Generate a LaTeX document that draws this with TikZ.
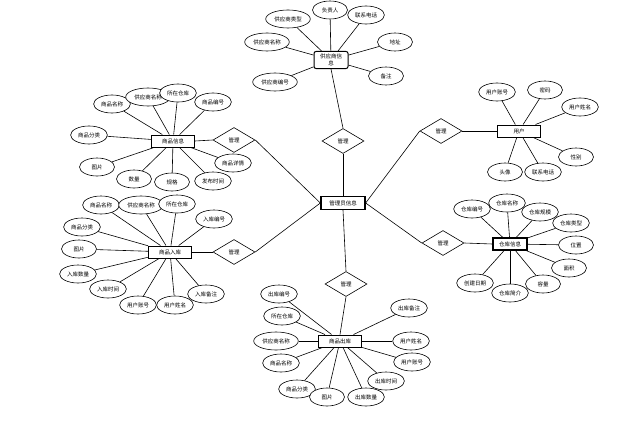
\documentclass[tikz,border=0pt]{standalone}
\usepackage{fontspec}
\setmainfont{Noto Sans CJK SC}
\usetikzlibrary{shapes.geometric}
\begin{document}
\begin{tikzpicture}[x=1pt,y=-1pt,
 attr/.style={ellipse,draw,fill=white,line width=0.6pt,minimum width=35pt,minimum height=18pt,inner xsep=2pt,inner ysep=0pt,font=\fontsize{5.5}{6}\selectfont},
 ent/.style={rectangle,draw,fill=white,line width=1pt,minimum width=43pt,minimum height=12pt,inner sep=1pt,font=\fontsize{5.5}{6}\selectfont},
 ent2/.style={ent,line width=1.3pt},
 rel/.style={diamond,draw,fill=white,line width=0.6pt,minimum width=42pt,minimum height=25pt,inner sep=0pt,font=\fontsize{5.5}{6}\selectfont},
 lk/.style={line width=0.6pt}]
\useasboundingbox (0,0) rectangle (634,420);
\fill[white] (0,0) rectangle (634,420);

% central entity
\node[ent2,minimum width=44pt,minimum height=13pt] (adm) at (343,203) {管理员信息};

% relations
\node[rel] (rs) at (343,141) {管理};
\node[rel] (rg) at (234,140) {管理};
\node[rel] (rr) at (234,252) {管理};
\node[rel] (rc) at (346,284) {管理};
\node[rel] (ru) at (441,131) {管理};
\node[rel] (rw) at (443,243) {管理};

% entities
\node[ent,rounded corners=2pt,minimum width=34pt,minimum height=17pt,align=center,font=\fontsize{5.5}{7}\selectfont] (sup) at (331,60) {供应商信\\息};
\node[ent] (goods) at (173,141) {商品信息};
\node[ent] (inn) at (170,252) {商品入库};
\node[ent] (out) at (340,341) {商品出库};
\node[ent] (user) at (519,131) {用户};
\node[ent2,minimum width=34pt] (wh) at (510,244) {仓库信息};

% center links
\draw[lk] (adm.north) -- (rs.south);
\draw[lk] (rs.north) -- (sup.south);
\draw[lk] (adm.west) -- (rg.east);
\draw[lk] (rg.west) -- (goods.east);
\draw[lk] (adm.west) -- (rr.east);
\draw[lk] (rr.west) -- (inn.east);
\draw[lk] (adm.south) -- (rc.north);
\draw[lk] (rc.south) -- (out.north);
\draw[lk] (adm.east) -- (ru.west);
\draw[lk] (ru.east) -- (user.west);
\draw[lk] (adm.east) -- (rw.west);
\draw[lk] (rw.east) -- (wh.west);

% supplier attributes
\node[attr] (s1) at (330,10) {负责人};
\node[attr] (s2) at (288,19) {供应商类型};
\node[attr] (s3) at (366,15) {联系电话};
\node[attr] (s4) at (267,42) {供应商名称};
\node[attr] (s5) at (395,42) {地址};
\node[attr] (s6) at (386,76) {备注};
\node[attr] (s7) at (275,82) {供应商编号};
\foreach \a in {s1,s2,s3,s4,s5,s6,s7} \draw[lk] (\a) -- (sup);

% goods attributes
\node[attr] (g1) at (112,104) {商品名称};
\node[attr] (g2) at (148,97) {供应商名称};
\node[attr] (g3) at (178,93) {所在仓库};
\node[attr] (g4) at (213,102) {商品编号};
\node[attr] (g5) at (89,135) {商品分类};
\node[attr] (g6) at (97,167) {图片};
\node[attr] (g7) at (134,179) {数量};
\node[attr] (g8) at (172,182) {规格};
\node[attr] (g9) at (213,181) {发布时间};
\node[attr] (g10) at (233,163) {商品详情};
\foreach \a in {g1,g2,g3,g4,g5,g6,g7,g8,g9,g10} \draw[lk] (\a) -- (goods);

% stock-in attributes
\node[attr] (i1) at (101,205) {商品名称};
\node[attr] (i2) at (141,205) {供应商名称};
\node[attr] (i3) at (177,204) {所在仓库};
\node[attr] (i4) at (214,219) {入库编号};
\node[attr] (i5) at (82,227) {商品分类};
\node[attr] (i6) at (79,249) {图片};
\node[attr] (i7) at (78,274) {入库数量};
\node[attr] (i8) at (108,289) {入库时间};
\node[attr] (i9) at (138,305) {用户账号};
\node[attr] (i10) at (175,305) {用户姓名};
\node[attr] (i11) at (206,294) {入库备注};
\foreach \a in {i1,i2,i3,i4,i5,i6,i7,i8,i9,i10,i11} \draw[lk] (\a) -- (inn);

% stock-out attributes
\node[attr] (o1) at (279,294) {出库编号};
\node[attr] (o2) at (282,316) {所在仓库};
\node[attr] (o3) at (276,341) {供应商名称};
\node[attr] (o4) at (281,363) {商品名称};
\node[attr] (o5) at (297,389) {商品分类};
\node[attr] (o6) at (327,397) {图片};
\node[attr] (o7) at (366,397) {出库数量};
\node[attr] (o8) at (386,381) {出库时间};
\node[attr] (o9) at (412,362) {用户账号};
\node[attr] (o10) at (411,341) {用户姓名};
\node[attr] (o11) at (409,308) {出库备注};
\foreach \a in {o1,o2,o3,o4,o5,o6,o7,o8,o9,o10,o11} \draw[lk] (\a) -- (out);

% user attributes
\node[attr] (u1) at (497,92) {用户账号};
\node[attr] (u2) at (545,90) {密码};
\node[attr] (u3) at (580,107) {用户姓名};
\node[attr] (u4) at (576,157) {性别};
\node[attr] (u5) at (543,172) {联系电话};
\node[attr] (u6) at (505,172) {头像};
\foreach \a in {u1,u2,u3,u4,u5,u6} \draw[lk] (\a) -- (user);

% warehouse attributes
\node[attr] (w1) at (472,209) {仓库编号};
\node[attr] (w2) at (507,203) {仓库名称};
\node[attr] (w3) at (540,212) {仓库规模};
\node[attr] (w4) at (571,223) {仓库类型};
\node[attr] (w5) at (576,245) {位置};
\node[attr] (w6) at (569,268) {面积};
\node[attr] (w7) at (543,284) {容量};
\node[attr] (w8) at (510,293) {仓库简介};
\node[attr] (w9) at (475,283) {创建日期};
\foreach \a in {w1,w2,w3,w4,w5,w6,w7,w8,w9} \draw[lk] (\a) -- (wh);
\end{tikzpicture}
\end{document}
